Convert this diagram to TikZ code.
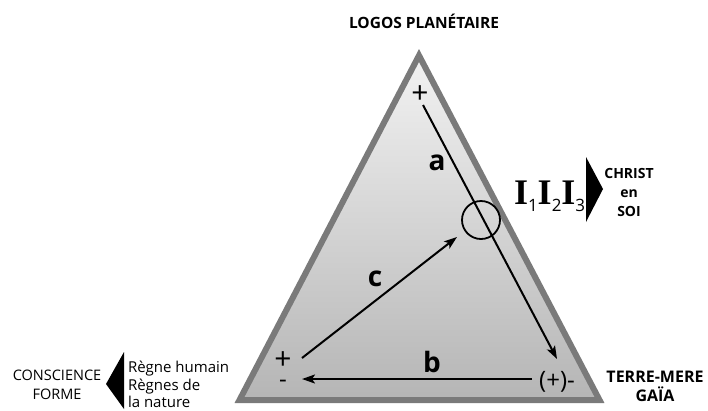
\documentclass[tikz,border=0pt]{standalone}
\usepackage{fontspec}
\setmainfont{Open Sans}
\newfontfamily\serifb{Liberation Serif}
\usetikzlibrary{arrows.meta}
\begin{document}
\begin{tikzpicture}[x=1pt,y=-1pt,
  lbl/.style={inner sep=0pt,outer sep=0pt},
  bold/.style={lbl,font=\bfseries\fontsize{#1}{#1}\selectfont},
  reg/.style={lbl,font=\fontsize{#1}{#1}\selectfont},
  sign/.style={lbl,font=\fontsize{#1}{#1}\selectfont,anchor=base,text depth=0pt},
  arr/.style={line width=2pt,-{Stealth[length=13pt,width=9pt,inset=3pt]}},
  tri/.style={draw=black!52,line width=6pt,line join=miter,top color=black!5,bottom color=black!29}]
\useasboundingbox (0,0) rectangle (708,410);
% triangle
\coordinate (top) at (419,55.5);
\coordinate (br) at (599.5,400);
\coordinate (bl) at (239.5,400);
\path[tri] (top) -- (br) -- (bl) -- cycle;
% titles
\node[bold=15.5,anchor=base] (logos) at (424,28) {LOGOS PLANÉTAIRE};
\node[bold=16,anchor=base] (terre) at (655,382) {TERRE-MERE};
\node[bold=16,anchor=base] (gaia) at (655,401.5) {GAÏA};
\node[reg=14.5,anchor=base] (consc) at (57,380) {CONSCIENCE};
\node[reg=14.5,anchor=base] (forme) at (57,399) {FORME};
\node[reg=15,anchor=base west] (regne1) at (128,372.5) {Règne humain};
\node[reg=15,anchor=base west] (regne2) at (128,390.5) {Règnes de};
\node[reg=15,anchor=base west] (regne3) at (128,407) {la nature};
\fill (124,352) -- (106,384) -- (124,409) -- cycle;
% right labels
\node[lbl,anchor=base west] (iii) at (514,204) {{\serifb\bfseries\fontsize{36}{36}\selectfont I}\raisebox{-7pt}{\fontsize{17}{17}\selectfont 1}{\serifb\bfseries\fontsize{36}{36}\selectfont I}\raisebox{-7pt}{\fontsize{17}{17}\selectfont 2}{\serifb\bfseries\fontsize{36}{36}\selectfont I}\raisebox{-7pt}{\fontsize{17}{17}\selectfont 3}};
\fill (586,157) -- (603,189) -- (586,222) -- cycle;
\node[bold=14,anchor=base] (christ) at (629,178) {CHRIST};
\node[bold=14,anchor=base] (en) at (629,197) {en};
\node[bold=14,anchor=base] (soi) at (629,216) {SOI};
% signs
\node[sign=30,text height=0.62em] (plusTop) at (420,103) {+};
\node[sign=30,text height=0.62em] (plusLeft) at (283,369) {+};
\node[sign=24,text height=0.35em] (minusLeft) at (283,387) {-};
\node[reg=24,anchor=base] (pm) at (557,388) {(+)-};
% letters
\node[bold=28,anchor=base] (la) at (437,170) {a};
\node[bold=28,anchor=base] (lb) at (432,372) {b};
\node[bold=28,anchor=base] (lc) at (375,286) {c};
% ring
\node[circle,draw,line width=1.8pt,minimum size=38pt,inner sep=0pt] (ring) at (481,220) {};
% arrows
\coordinate (aS) at (423,105);
\coordinate (aE) at (557,359);
\coordinate (cS) at (302,358);
\coordinate (cE) at (457,237);
\coordinate (bS) at (532,379);
\coordinate (bE) at (302,379);
\draw[arr] (aS) -- (aE);
\draw[arr] (cS) -- (cE);
\draw[arr] (bS) -- (bE);
\end{tikzpicture}
\end{document}
